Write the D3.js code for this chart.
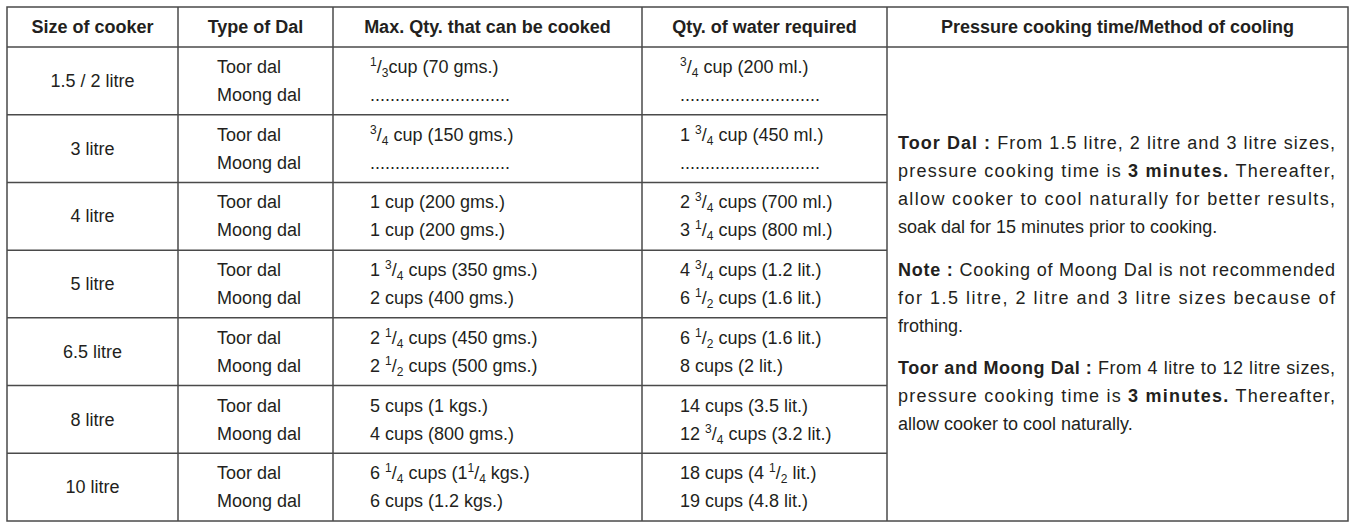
<!DOCTYPE html>
<html>
<head>
<style>
  body { margin: 0; background: #fff; font-family: "Liberation Sans", Arial, sans-serif; }
</style>
<script src="https://cdn.jsdelivr.net/npm/d3@7"></script>
</head>
<body>
<svg id="main"></svg>
<script>
  // table content, fractions written as {num|den}
  const headers = ["Size of cooker", "Type of Dal", "Max. Qty. that can be cooked", "Qty. of water required", "Pressure cooking time/Method of cooling"]
  const sizes = ["1.5 / 2 litre", "3 litre", "4 litre", "5 litre", "6.5 litre", "8 litre", "10 litre"]
  const dals = ["Toor dal", "Moong dal"]
  const maxQty = [
    ["{1|3}cup (70 gms.)", "............................"],
    ["{3|4} cup (150 gms.)", "............................"],
    ["1 cup (200 gms.)", "1 cup (200 gms.)"],
    ["1 {3|4} cups (350 gms.)", "2 cups (400 gms.)"],
    ["2 {1|4} cups (450 gms.)", "2 {1|2} cups (500 gms.)"],
    ["5 cups (1 kgs.)", "4 cups (800 gms.)"],
    ["6 {1|4} cups (1{1|4} kgs.)", "6 cups (1.2 kgs.)"]
  ]
  const water = [
    ["{3|4} cup (200 ml.)", "............................"],
    ["1 {3|4} cup (450 ml.)", "............................"],
    ["2 {3|4} cups (700 ml.)", "3 {1|4} cups (800 ml.)"],
    ["4 {3|4} cups (1.2 lit.)", "6 {1|2} cups (1.6 lit.)"],
    ["6 {1|2} cups (1.6 lit.)", "8 cups (2 lit.)"],
    ["14 cups (3.5 lit.)", "12 {3|4} cups (3.2 lit.)"],
    ["18 cups (4 {1|2} lit.)", "19 cups (4.8 lit.)"]
  ]
  // notes: *bold* segments, last line of each paragraph not justified
  const notes = [
    ["*Toor Dal :* From 1.5 litre, 2 litre and 3 litre sizes,", "pressure cooking time is *3 minutes.* Thereafter,", "allow cooker to cool naturally for better results,", "soak dal for 15 minutes prior to cooking."],
    ["*Note :* Cooking of Moong Dal is not recommended", "for 1.5 litre, 2 litre and 3 litre sizes because of", "frothing."],
    ["*Toor and Moong Dal :* From 4 litre to 12 litre sizes,", "pressure cooking time is *3 minutes.* Thereafter,", "allow cooker to cool naturally."]
  ]

  const width = 1355, height = 528
  const colX = [7, 178, 333, 642, 887, 1348]
  const tableTop = 7, headH = 40, tableBottom = 521
  const ink = "#231f20"
  const svg = d3.select("#main").attr("width", width).attr("height", height)
    .attr("font-family", "'Liberation Sans', Arial, sans-serif").attr("fill", ink)

  const y = d3.scaleBand().domain(d3.range(sizes.length)).range([tableTop + headH, tableBottom])

  // grid
  const g = svg.append("g").attr("stroke", "#4a4a4a").attr("stroke-width", 1.5)
  g.append("rect").attr("x", colX[0]).attr("y", tableTop).attr("width", colX[5] - colX[0]).attr("height", tableBottom - tableTop).attr("fill", "none")
  colX.slice(1, 5).forEach(x => g.append("line").attr("x1", x).attr("x2", x).attr("y1", tableTop).attr("y2", tableBottom))
  g.append("line").attr("x1", colX[0]).attr("x2", colX[5]).attr("y1", tableTop + headH).attr("y2", tableTop + headH)
  d3.range(1, sizes.length).forEach(i => g.append("line").attr("x1", colX[0]).attr("x2", colX[4]).attr("y1", y(i)).attr("y2", y(i)))

  // headers
  svg.append("g").attr("font-weight", "bold").attr("font-size", 18).attr("text-anchor", "middle")
    .selectAll("text").data(headers).join("text")
    .attr("x", (d, i) => (colX[i] + colX[i + 1]) / 2).attr("y", tableTop + 26).text(d => d)

  function fracText(sel, str) {
    const parts = str.split(/(\{\d+\|\d+\})/).filter(s => s.length)
    let shift = 0
    parts.forEach(p => {
      const m = p.match(/\{(\d+)\|(\d+)\}/)
      if (m) {
        sel.append("tspan").attr("font-size", 12).attr("dy", -7 - shift).text(m[1])
        sel.append("tspan").attr("dy", 7).text("/")
        sel.append("tspan").attr("font-size", 12).attr("dy", 4).text(m[2])
        shift = 4
      } else {
        sel.append("tspan").attr("dy", -shift).text(p)
        shift = 0
      }
    })
  }

  const body = svg.append("g").attr("font-size", 18)
  sizes.forEach((s, i) => {
    const y0 = y(i)
    body.append("text").attr("text-anchor", "middle").attr("x", (colX[0] + colX[1]) / 2).attr("y", y0 + 40).text(s)
    dals.forEach((d, j) => {
      const yy = y0 + 26 + j * 28
      body.append("text").attr("x", 217).attr("y", yy).text(d)
      fracText(body.append("text").attr("x", 370).attr("y", yy), maxQty[i][j])
      fracText(body.append("text").attr("x", 680).attr("y", yy), water[i][j])
    })
  })

  const paraY = [149, 276, 374]
  const nx = 898, nw = 1335 - 898
  notes.forEach((para, p) => {
    para.forEach((line, k) => {
      const t = body.append("text").attr("x", nx).attr("y", paraY[p] + k * 28)
      line.split("*").forEach((seg, si) => {
        if (seg.length) t.append("tspan").attr("font-weight", si % 2 ? "bold" : null).text(seg)
      })
      if (k < para.length - 1) t.attr("textLength", nw).attr("lengthAdjust", "spacing")
    })
  })
</script>
</body>
</html>
